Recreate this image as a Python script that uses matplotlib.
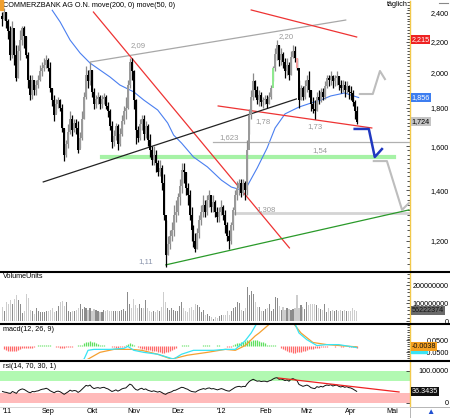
import numpy as np
import pandas as pd
import matplotlib
matplotlib.use("Agg")
import matplotlib.pyplot as plt
import matplotlib.transforms as mtrans
from matplotlib.lines import Line2D
from matplotlib.patches import Rectangle
from matplotlib.ticker import NullFormatter

plt.rcParams['font.family'] = ['Liberation Sans', 'DejaVu Sans']

# daily prices, Commerzbank, from 2011-08-01 (business days)
close = [2.36, 2.41, 2.34, 2.27, 2.11, 2.29, 2.11, 1.97, 2.14, 2.21,
         2.29, 2.24, 2.11, 1.96, 1.87, 1.96, 1.90, 1.93, 1.96, 2.01,
         2.03, 2.05, 2.08, 2.03, 1.91, 1.84, 1.76, 1.82, 1.84, 1.80,
         1.69, 1.56, 1.61, 1.67, 1.74, 1.68, 1.72, 1.69, 1.58, 1.64,
         1.74, 1.86, 1.99, 1.95, 2.02, 1.89, 1.82, 1.85, 1.86, 1.82,
         1.85, 1.86, 1.81, 1.78, 1.70, 1.62, 1.65, 1.70, 1.61, 1.66,
         1.73, 1.78, 1.80, 1.93, 2.07, 2.01, 1.84, 1.68, 1.64, 1.71,
         1.74, 1.66, 1.70, 1.63, 1.58, 1.535, 1.56, 1.52, 1.48, 1.50,
         1.43, 1.30, 1.15, 1.19, 1.22, 1.24, 1.30, 1.31, 1.37, 1.42,
         1.49, 1.48, 1.41, 1.38, 1.30, 1.24, 1.20, 1.17, 1.23, 1.28,
         1.31, 1.34, 1.31, 1.36, 1.38, 1.33, 1.35, 1.31, 1.29, 1.31,
         1.33, 1.30, 1.26, 1.22, 1.20, 1.26, 1.32, 1.38, 1.41, 1.43,
         1.39, 1.43, 1.40, 1.58, 1.76, 1.86, 1.95, 1.90, 1.84, 1.87,
         1.83, 1.84, 1.85, 1.82, 1.86, 1.91, 2.03, 2.12, 2.18, 2.08,
         2.12, 2.07, 2.01, 2.05, 1.99, 2.10, 2.14, 2.09, 2.03, 1.84,
         1.91, 1.86, 1.92, 1.96, 1.90, 1.82, 1.79, 1.78, 1.86, 1.84,
         1.89, 1.86, 1.92, 1.97, 1.96, 1.98, 1.95, 1.97, 1.98, 1.93,
         1.91, 1.93, 1.90, 1.92, 1.89, 1.88, 1.83, 1.78, 1.724]
high = [2.41, 2.44, 2.41, 2.36, 2.31, 2.34, 2.21, 2.18, 2.18, 2.28,
        2.31, 2.31, 2.24, 2.13, 1.99, 1.99, 1.96, 1.96, 1.99, 2.05,
        2.07, 2.09, 2.11, 2.09, 2.07, 1.91, 1.87, 1.85, 1.86, 1.85,
        1.82, 1.69, 1.63, 1.71, 1.78, 1.76, 1.74, 1.74, 1.73, 1.67,
        1.78, 1.89, 2.04, 2.02, 2.07, 2.02, 1.91, 1.87, 1.89, 1.87,
        1.87, 1.88, 1.87, 1.83, 1.79, 1.73, 1.68, 1.72, 1.71, 1.69,
        1.76, 1.81, 1.86, 1.96, 2.09, 2.09, 2.02, 1.85, 1.70, 1.74,
        1.76, 1.76, 1.73, 1.71, 1.66, 1.60, 1.60, 1.58, 1.535, 1.535,
        1.51, 1.47, 1.28, 1.22, 1.24, 1.27, 1.34, 1.36, 1.39, 1.45,
        1.52, 1.52, 1.48, 1.43, 1.40, 1.33, 1.26, 1.23, 1.25, 1.30,
        1.34, 1.38, 1.36, 1.38, 1.40, 1.38, 1.38, 1.36, 1.33, 1.33,
        1.36, 1.34, 1.32, 1.27, 1.24, 1.27, 1.33, 1.40, 1.44, 1.45,
        1.45, 1.45, 1.44, 1.63, 1.79, 1.90, 2.00, 1.96, 1.92, 1.90,
        1.89, 1.86, 1.87, 1.87, 1.89, 1.93, 2.04, 2.16, 2.21, 2.18,
        2.16, 2.13, 2.09, 2.09, 2.07, 2.14, 2.18, 2.17, 2.09, 1.96,
        1.93, 1.92, 1.96, 1.99, 2.01, 1.90, 1.86, 1.84, 1.89, 1.90,
        1.91, 1.91, 1.95, 1.99, 1.99, 2.01, 1.99, 1.99, 2.01, 1.98,
        1.96, 1.96, 1.95, 1.95, 1.93, 1.92, 1.90, 1.84, 1.81]
low = [2.31, 2.35, 2.29, 2.22, 2.08, 2.09, 2.05, 1.95, 1.97, 2.08,
       2.18, 2.16, 2.09, 1.91, 1.84, 1.85, 1.87, 1.87, 1.91, 1.95,
       1.98, 2.01, 2.03, 2.01, 1.89, 1.81, 1.73, 1.77, 1.80, 1.78,
       1.67, 1.53, 1.55, 1.59, 1.66, 1.65, 1.67, 1.66, 1.57, 1.59,
       1.63, 1.74, 1.85, 1.91, 1.93, 1.86, 1.79, 1.80, 1.82, 1.79,
       1.80, 1.82, 1.79, 1.75, 1.68, 1.59, 1.60, 1.63, 1.58, 1.60,
       1.65, 1.71, 1.74, 1.79, 1.91, 1.96, 1.79, 1.61, 1.62, 1.63,
       1.68, 1.63, 1.64, 1.60, 1.55, 1.51, 1.51, 1.48, 1.46, 1.46,
       1.40, 1.28, 1.11, 1.15, 1.17, 1.20, 1.22, 1.27, 1.30, 1.34,
       1.39, 1.43, 1.38, 1.34, 1.28, 1.20, 1.18, 1.16, 1.17, 1.21,
       1.26, 1.29, 1.29, 1.30, 1.33, 1.31, 1.31, 1.29, 1.27, 1.27,
       1.30, 1.28, 1.23, 1.20, 1.17, 1.19, 1.24, 1.30, 1.36, 1.38,
       1.37, 1.38, 1.36, 1.38, 1.66, 1.74, 1.84, 1.86, 1.82, 1.81,
       1.81, 1.80, 1.82, 1.80, 1.82, 1.85, 1.95, 2.01, 2.08, 2.04,
       2.05, 2.03, 1.97, 1.99, 1.96, 1.99, 2.09, 2.07, 2.02, 1.80,
       1.84, 1.84, 1.85, 1.89, 1.86, 1.78, 1.77, 1.74, 1.78, 1.82,
       1.83, 1.84, 1.85, 1.91, 1.92, 1.93, 1.91, 1.92, 1.93, 1.90,
       1.88, 1.89, 1.86, 1.88, 1.85, 1.84, 1.81, 1.74, 1.71]
first_open = 2.38

# volume in millions of shares
volume_m = [80, 54, 107, 98, 116, 98, 125, 147, 116, 93,
            45, 59, 152, 131, 63, 59, 41, 72, 54, 48,
            50, 48, 54, 59, 63, 72, 48, 54, 86, 107,
            113, 84, 107, 54, 48, 54, 59, 63, 72, 93, 66,
            80, 75, 63, 72, 54, 68, 63, 57, 50, 48,
            63, 59, 63, 59, 57, 59, 59, 59, 59, 63,
            66, 59, 161, 95, 72, 125, 90, 75, 98, 72,
            75, 120, 75, 54, 48, 57, 50, 63, 59, 77,
            161, 107, 72, 63, 75, 63, 54, 57, 86, 107,
            72, 54, 50, 72, 80, 63, 98, 90, 80, 48, 60,
            36, 39, 30, 21, 14, 23, 18, 27, 36, 36,
            36, 59, 36, 59, 72, 77, 107, 102, 63, 54,
            72, 188, 143, 166, 152, 107, 77, 80, 57, 59,
            66, 75, 98, 57, 68, 134, 129, 84, 63, 77,
            63, 72, 68, 63, 68, 75, 143, 72, 90, 80, 70,
            107, 90, 98, 95, 93, 90, 75, 66, 63, 93,
            48, 72, 59, 63, 59, 63, 57, 63, 54, 63,
            54, 59, 54, 75, 63, 59]

# 50-day average (blue), read at selected days
ma50_idx = [25, 29, 34, 39, 44, 49, 54, 59, 66, 71, 78, 83, 86, 90, 96, 103,
            110, 115, 120, 123, 128, 133, 137, 142, 149, 155, 160, 165, 172,
            175, 179]
ma50_val = [2.42, 2.335, 2.21, 2.125, 2.061, 2.018, 1.976, 1.928, 1.888,
            1.842, 1.787, 1.718, 1.656, 1.616, 1.549, 1.503, 1.444, 1.414,
            1.401, 1.418, 1.498, 1.592, 1.692, 1.766, 1.803, 1.825, 1.842,
            1.865, 1.882, 1.870, 1.856]

# macd(12, 26, 9)
macd_idx = [30, 38, 41, 43, 46, 54, 61, 63, 66, 71, 78, 86, 90, 96, 106, 112,
            117, 122, 125, 128, 140, 147, 149, 153, 158, 163, 169, 178]
macd_val = [-0.15, -0.13, -0.107, -0.033, -0.025, -0.025, -0.017, 0.0,
            -0.033, -0.050, -0.066, -0.107, -0.066, -0.033, -0.033, -0.025,
            -0.025, 0.048, 0.113, 0.2, 0.25, 0.19, 0.113, 0.056, 0.007, 0.015,
            0.015, -0.01]
signal_idx = [30, 40, 43, 49, 56, 65, 70, 78, 85, 93, 103, 112, 117, 122, 127,
              129, 135, 145, 150, 156, 163, 178]
signal_val = [-0.17, -0.13, -0.107, -0.05, -0.025, -0.025, -0.033, -0.066,
              -0.107, -0.074, -0.050, -0.025, -0.033, 0.007, 0.088, 0.113,
              0.2, 0.22, 0.113, 0.033, 0.015, -0.004]
macd_hist = [0.005,
             -0.02, -0.03, -0.035, -0.04, -0.04, -0.04, -0.035, -0.03, -0.02, -0.01,
             -0.01, -0.012, -0.014, -0.012, -0.01, -0.006,
             0.004, 0.008, 0.01, 0.012, 0.014, 0.012, 0.01, 0.008, 0.005, 0.003,
             -0.004, -0.008, -0.01, -0.012, -0.01, -0.008, -0.006, -0.004, -0.002,
             0.004, 0.006, 0.008, 0.01,
             0.015, 0.025, 0.035, 0.04, 0.045, 0.04, 0.035, 0.03, 0.02, 0.015,
             0.01, 0.008, 0.006, 0.005, 0.003,
             -0.004, -0.008, -0.01, -0.01, -0.008, -0.005, -0.002,
             0.008, 0.018, 0.025, 0.02, 0.012, 0.004,
             -0.006, -0.012, -0.018, -0.024, -0.028, -0.03, -0.032, -0.035, -0.038,
             -0.04, -0.045, -0.05, -0.052, -0.055, -0.05, -0.045, -0.038, -0.03,
             -0.02, -0.01,
             0.003, 0.006, 0.008, 0.01, 0.01, 0.008, 0.006, 0.005, 0.004, 0.004,
             0.005, 0.006,
             0.006, 0.008, 0.01, 0.01, 0.008, 0.006, 0.005, 0.006, 0.008, 0.008,
             0.006, 0.004, 0.002,
             -0.004, -0.005, -0.003,
             0.01, 0.018, 0.025, 0.03, 0.035, 0.04, 0.045, 0.05, 0.05, 0.045,
             0.05, 0.055, 0.05, 0.045, 0.04, 0.035, 0.03,
             0.015, 0.012, 0.01, 0.012, 0.008, 0.006, 0.003,
             -0.01, -0.02, -0.03, -0.04, -0.045, -0.05, -0.055, -0.055, -0.05,
             -0.048, -0.045, -0.04, -0.035, -0.03, -0.025, -0.02,
             -0.018, -0.015, -0.012, -0.01, -0.008, -0.006, -0.004, -0.002,
             0.003, 0.004, 0.003, -0.002, 0.002, 0.003, -0.003, -0.004, 0.002,
             0.003, -0.003, -0.005, -0.006, -0.008, -0.01]

# rsi(14)
rsi = [36, 34, 33, 31, 30, 36, 33, 30, 38, 42,
       44, 42, 38, 34, 32, 36, 35, 37, 38, 41,
       43, 44, 46, 43, 38, 35, 32, 36, 37, 35,
       31, 27, 31, 35, 40, 37, 39, 38, 33, 37,
       43, 49, 55, 53, 56, 49, 45, 47, 48, 46,
       48, 49, 46, 44, 40, 36, 38, 41, 37, 40,
       44, 46, 47, 53, 59, 56, 48, 42, 40, 44,
       46, 42, 44, 40, 38, 36, 38, 36, 34, 36,
       33, 29, 27, 31, 33, 35, 39, 40, 43, 46,
       49, 48, 45, 43, 39, 36, 35, 34, 38, 41,
       43, 45, 43, 46, 47, 44, 45, 43, 41, 43,
       45, 43, 40, 38, 37, 41, 45, 49, 51, 52,
       50, 52, 51, 60, 67, 71, 74, 71, 68, 69,
       67, 68, 68, 66, 69, 71, 75, 78, 79, 74,
       75, 73, 70, 72, 68, 74, 76, 73, 70, 58,
       55, 52, 54, 56, 53, 48, 46, 45, 51, 49,
       52, 50, 54, 56, 55, 57, 53, 55, 56, 52,
       50, 52, 49, 51, 48, 47, 44, 40, 36.3435]

month_lbl = ["'11", "Sep", "Okt", "Nov", "Dez", "'12", "Feb", "Mrz", "Apr", "Mai"]

n = len(close)
dates = pd.bdate_range('2011-08-01', periods=n)
cal = pd.bdate_range('2011-08-01', '2012-05-31')
month_pos = [i for i in range(len(cal)) if i == 0 or cal[i].month != cal[i - 1].month]

W, H = 450, 418
def fx(px):
    return px / W
def fy(py):
    return 1 - py / H

fig = plt.figure(figsize=(4.5, 4.18), dpi=100)
fig.patch.set_facecolor('white')

def panel(top, bottom):
    return fig.add_axes([0, fy(bottom), 410 / W, (bottom - top) / H])

ax = panel(1, 270)
axv = panel(273, 322)
axm = panel(325, 359)
axr = panel(362, 406)

FS = 5.2
YEL = '#f2c94c'
XL = (-1.24, 204.8)

for a in (ax, axv, axm, axr):
    a.set_xlim(*XL)
    for s in ('top', 'left', 'bottom'):
        a.spines[s].set_visible(False)
    a.spines['right'].set_color(YEL)
    a.spines['right'].set_linewidth(1)
    a.yaxis.tick_right()
    a.tick_params(axis='y', which='both', direction='in', colors='#333333',
                  labelcolor='black', labelsize=FS, pad=28, width=0.6)
    a.tick_params(axis='y', which='major', length=3)
    a.tick_params(axis='y', which='minor', length=2)
    a.tick_params(axis='x', length=0, labelbottom=False)
    a.patch.set_alpha(0)

def right_align(a):
    for lab in a.get_yticklabels():
        lab.set_horizontalalignment('right')

def tag(a, y, s, fc, tc):
    tr = mtrans.blended_transform_factory(a.transAxes, a.transData)
    a.text(1.0035, y, s, transform=tr, fontsize=FS, color=tc, ha='left', va='center',
           bbox=dict(boxstyle='square,pad=0.12', fc=fc, ec='none'), clip_on=False, zorder=5)

# ---- price panel ----
ax.set_yscale('log')
ax.set_ylim(1.0987, 2.489)
x = np.arange(n)
c = np.array(close)
o = np.array([first_open] + close[:-1])
hi = np.array(high)
lo = np.array(low)
up = c >= o
col = np.where(up, '#9a9a9a', '#000000').astype(object)
col[136] = '#8fe88f'
col[148] = '#f3a0a0'
ax.vlines(x, lo, hi, colors=np.where(up, '#8a8a8a', '#000000'), lw=0.9, zorder=3)
body_lo = np.minimum(o, c)
body_h = np.maximum(np.abs(c - o), 0.006)
ax.bar(x, body_h, bottom=body_lo, width=1.0, color=list(col), lw=0, zorder=4)

ax.plot(ma50_idx, ma50_val, color='#4a7ff0', lw=0.8, zorder=2)

# drawn trend lines
ax.plot([44.2, 172.5], [2.068, 2.349], color='#a8a8a8', lw=0.9)
ax.plot([125, 178], [2.422, 2.231], color='#ee3333', lw=0.9)
ax.plot([45.7, 144.2], [2.407, 1.175], color='#ee3333', lw=0.9)
ax.plot([108.4, 185.6], [1.809, 1.692], color='#ee3333', lw=0.9)
ax.plot([20.5, 147.7], [1.436, 1.848], color='#222222', lw=0.9)
ax.plot([82.1, 204.3], [1.116, 1.319], color='#2a9a2a', lw=0.9)
ax.plot([105.8, 204.3], [1.623, 1.623], color='#b0b0b0', lw=0.9)
ax.plot([49.8, 196.7], [1.548, 1.548], color='#a6f2a6', lw=3, zorder=1)
ax.plot([116.4, 204.3], [1.307, 1.307], color='#d4d4d4', lw=2, zorder=1)
ax.plot([177.0, 184.1, 187.1, 190.7], [1.687, 1.687, 1.549, 1.587], color='#2038c0', lw=1.8)
ax.plot([179.6, 186.1, 189.7, 192.2], [1.876, 1.876, 2.012, 1.963], color='#bdbdbd', lw=1.5)
ax.plot([186.6, 193.2, 200.8, 204.3], [1.530, 1.530, 1.319, 1.347], color='#bdbdbd', lw=1.5)

for tx, ty, s in [(68, 2.177, '2,09'), (142.7, 2.231, '2,20'), (131, 1.723, '1,78'),
                  (156.8, 1.697, '1,73'), (114, 1.641, '1,623'), (159.4, 1.578, '1,54'),
                  (132.6, 1.319, '1,308')]:
    ax.text(tx, ty, s, fontsize=FS + 0.4, color='#9a9a9a', ha='center', va='center')
ax.text(72, 1.126, '1,11', fontsize=FS + 0.4, color='#8a94ac', ha='center', va='center')

pt = np.arange(1.2, 2.41, 0.2)
ax.set_yticks(pt, ['%.3f' % v for v in pt])
ax.set_yticklabels([('%.3f' % v).replace('.', ',') for v in pt])
ax.set_yticks(np.arange(1.12, 2.49, 0.02), minor=True)
ax.yaxis.set_minor_formatter(NullFormatter())
right_align(ax)
tag(ax, 2.215, '2,215', '#ee2222', 'white')
tag(ax, 1.856, '1,856', '#3d7ef0', 'white')
tag(ax, 1.724, '1,724', '#c4c4c4', 'black')
ax.text(0.008, 0.985, 'COMMERZBANK AG O.N. move(200, 0) move(50, 0)', transform=ax.transAxes,
        fontsize=FS, ha='left', va='center')

# ---- volume panel ----
vol = np.array(volume_m) * 1e6
axv.bar(x, vol, width=0.55, color=np.where(up, '#8c8c8c', '#cdcdcd'), lw=0)
axv.set_ylim(-5e6, 268e6)
axv.set_yticks([0, 1e8, 2e8], ['0', '100000000', '200000000'])
axv.set_yticks(np.arange(0, 2.61e8, 2e7), minor=True)
right_align(axv)
tag(axv, vol[-1], '56222374', '#6a6a6a', '#101010')
axv.text(0.008, 0.93, 'VolumeUnits', transform=axv.transAxes, fontsize=FS, va='center')

# ---- macd panel ----
hist = np.array(macd_hist)
axm.vlines(x, 0, hist, colors=np.where(hist >= 0, '#5fe05f', '#ff6a6a'), lw=0.9)
axm.plot(signal_idx, signal_val, color='#f5a030', lw=0.9)
axm.plot(macd_idx, macd_val, color='#38e4f4', lw=0.9)
axm.set_ylim(-0.106, 0.178)
axm.set_yticks([-0.05, 0.05], ['-0.0500', '0.0500'])
axm.set_yticks(np.arange(-0.1, 0.18, 0.02), minor=True)
right_align(axm)
trm = mtrans.blended_transform_factory(axm.transAxes, axm.transData)
axm.add_patch(Rectangle((1.002, -0.058), 0.04, 0.026, transform=trm, color='#38e4f4',
                        clip_on=False, zorder=4))
tag(axm, -0.0038, '-0.0038', '#f5a020', '#101010')
axm.text(0.008, 0.87, 'macd(12, 26, 9)', transform=axm.transAxes, fontsize=FS, va='center')

# ---- rsi panel ----
axr.axhspan(70, 100, color='#b2f9b2', lw=0)
axr.axhspan(0, 30, color='#ffbaba', lw=0)
axr.plot(x, rsi, color='#111111', lw=0.7)
axr.plot([138.7, 199.3], [78, 34.4], color='#ee2222', lw=0.9)
axr.set_ylim(-9.4, 128)
axr.set_yticks([0, 100], ['0', '100.0000'])
right_align(axr)
tag(axr, rsi[-1], '36.3435', '#111111', 'white')
axr.text(0.008, 0.9, 'rsi(14, 70, 30, 1)', transform=axr.transAxes, fontsize=FS, va='center')
axr.set_xticks(month_pos, month_lbl)
axr.tick_params(axis='x', labelbottom=True, labelsize=FS, pad=1.5)
axr.get_xticklabels()[0].set_horizontalalignment('left')

# frame lines and small decorations
for yy in (271.5, 323.5, 360.5):
    fig.add_artist(Line2D([0, 1], [fy(yy), fy(yy)], color='black', lw=1.5))
fig.add_artist(Line2D([0, fx(410)], [fy(406.5), fy(406.5)], color='#d0d0d0', lw=0.6))
fig.add_artist(Rectangle((0, fy(10)), fx(2.5), 10 / H, color='#f0a030'))
fig.text(fx(408), fy(5), 'täglich', fontsize=FS, ha='right', va='center')
fig.add_artist(Line2D([fx(439), fx(448)], [fy(2.5), fy(2.5)], color='#888888', lw=0.8))
fig.add_artist(Rectangle((fx(410), 0), fx(40), 11 / H, fill=False, ec='#aaaaaa', lw=0.6))
fig.text(fx(430), fy(412), '▲', fontsize=6, color='#2050d0', ha='center', va='center')

fig.savefig('out.png', dpi=100)
